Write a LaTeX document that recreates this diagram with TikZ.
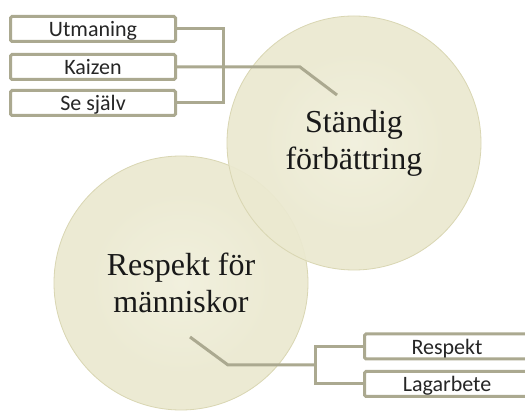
\documentclass[tikz,border=0pt]{standalone}
\usepackage{fontspec}
\newfontfamily\boxfont{Carlito}
\newfontfamily\discfont{Liberation Serif}
\definecolor{linkc}{HTML}{ABA990}
\definecolor{discA}{HTML}{F0EFDC}
\definecolor{discB}{HTML}{EBE9D0}
\definecolor{discC}{HTML}{E6E3C5}
\definecolor{discD}{HTML}{E1DEBC}
\definecolor{discedge}{HTML}{D9D6B2}
\pgfdeclareradialshading{discshade}{\pgfpoint{0bp}{0bp}}{%
  color(0bp)=(discA); color(18bp)=(discB); color(32bp)=(discB);
  color(34bp)=(discC); color(50bp)=(discD)}
\tikzset{
  disc/.style={circle, minimum size=254pt, inner sep=0pt, shading=discshade,
    fill opacity=0.93, text opacity=1, draw=discedge, line width=0.8pt,
    align=center, font=\discfont\fontsize{32}{37}\selectfont, text=black!90},
  tagbox/.style={rectangle, draw=linkc, line width=3pt, fill=white,
    rounded corners=1.5pt, minimum width=165pt, minimum height=25pt,
    inner sep=0pt, text height=20pt, text depth=4pt,
    font=\boxfont\fontsize{22}{24}\selectfont, text=black!85},
  link/.style={draw=linkc, line width=3pt, line join=miter}
}
\begin{document}
\begin{tikzpicture}[x=1pt,y=-1pt]
  \useasboundingbox (0,0) rectangle (525,411);
  \clip (0,0) rectangle (525,411);
  \fill[white] (0,0) rectangle (525,411);

  % the two discs
  \node[disc] (people) at (181,283) {Respekt för\\människor};
  \node[disc] (improve) at (354,143) {Ständig\\förbättring};

  % labels of the upper disc
  \node[tagbox] (utm) at (93,29) {Utmaning};
  \node[tagbox] (kai) at (93,67) {Kaizen};
  \node[tagbox] (sesj) at (93,103) {Se själv};

  % labels of the lower disc
  \node[tagbox] (resp) at (447,346.5) {Respekt};
  \node[tagbox] (lag) at (447,384) {Lagarbete};

  % joints of the connectors
  \coordinate (topbar) at (223,66);
  \coordinate (kbend) at (300,67);
  \coordinate (kend) at (337,95);
  \coordinate (lowbar) at (315,365);
  \coordinate (pbend) at (228,365);
  \coordinate (pend) at (190,337);

  % connectors
  \draw[link] (utm.east) -| (topbar) |- (sesj.east);
  \draw[link] (kai.east) -- (kbend) -- (kend);
  \draw[link] (resp.west) -| (lowbar) |- (lag.west);
  \draw[link] (pend) -- (pbend) -- (lowbar);
\end{tikzpicture}
\end{document}
